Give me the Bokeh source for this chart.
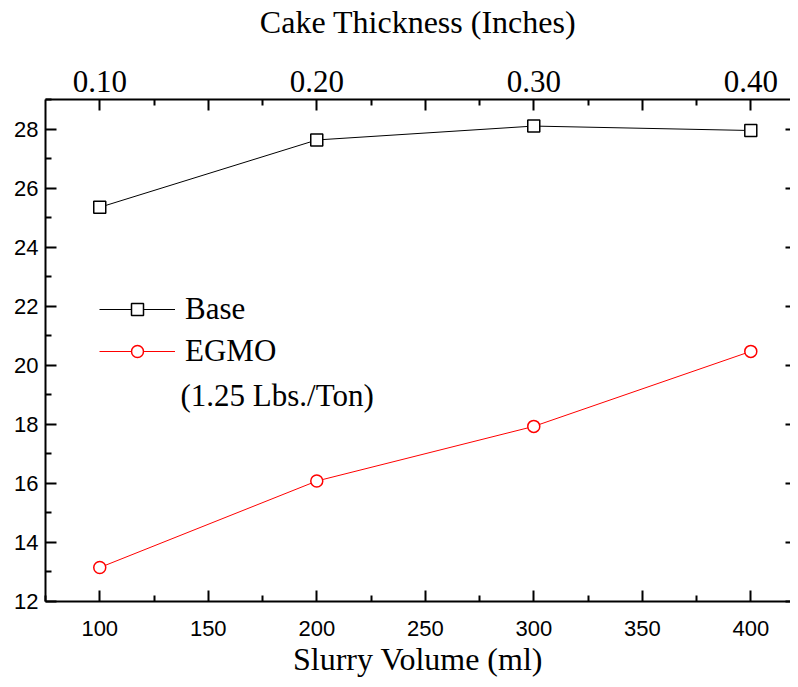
from bokeh.plotting import figure
from bokeh.models import (Range1d, LinearAxis, FixedTicker, Legend, LegendItem, Label)
from bokeh.embed import file_html
from bokeh.resources import INLINE

# ---- data ----
slurry_volume = [100, 200, 300, 400]
base_values = [25.35, 27.63, 28.1, 27.95]
egmo_values = [13.15, 16.08, 17.93, 20.47]

x_ticks = [100, 150, 200, 250, 300, 350, 400]
x_minor = [75, 125, 175, 225, 275, 325, 375, 425]
y_ticks = [12, 14, 16, 18, 20, 22, 24, 26, 28]
y_minor = [13, 15, 17, 19, 21, 23, 25, 27, 29]
top_ticks = [0.10, 0.15, 0.20, 0.25, 0.30, 0.35, 0.40]
top_labels = ["0.10", "", "0.20", "", "0.30", "", "0.40"]
top_minor = [0.125, 0.175, 0.225, 0.275, 0.325, 0.375]

SERIF = "Liberation Serif"
SANS = "Liberation Sans"

p = figure(width=790, height=679, output_backend="svg", toolbar_location=None,
           x_range=Range1d(75, 418.3), y_range=Range1d(12, 29),
           min_border_left=45, min_border_right=0, min_border_top=99, min_border_bottom=78,
           x_axis_location=None, y_axis_location=None)
p.grid.visible = False
p.outline_line_color = None
p.extra_x_ranges = {"thick": Range1d(0.075, 0.4183)}

def style(ax, tick_in=11, minor_in=6):
    ax.axis_line_width = 2
    ax.axis_line_color = "black"
    ax.major_tick_line_width = 2
    ax.minor_tick_line_width = 2
    ax.major_tick_line_color = "black"
    ax.minor_tick_line_color = "black"
    ax.major_tick_in = tick_in
    ax.major_tick_out = 0
    ax.minor_tick_in = minor_in
    ax.minor_tick_out = 0
    ax.major_label_text_color = "black"
    ax.axis_label_text_color = "black"
    ax.axis_label_text_font_style = "normal"

# bottom axis
xb = LinearAxis(ticker=FixedTicker(ticks=x_ticks, minor_ticks=x_minor),
                axis_label="Slurry Volume (ml)")
style(xb)
xb.major_label_text_font = SANS
xb.major_label_text_font_size = "22px"
xb.major_label_standoff = 19
xb.axis_label_text_font = SERIF
xb.axis_label_text_font_size = "32px"
xb.axis_label_standoff = 2
p.add_layout(xb, "below")

# left axis
yl = LinearAxis(ticker=FixedTicker(ticks=y_ticks, minor_ticks=y_minor))
style(yl)
yl.major_label_text_font = SANS
yl.major_label_text_font_size = "22px"
yl.major_label_standoff = 7
p.add_layout(yl, "left")

# top axis
xt = LinearAxis(x_range_name="thick",
                ticker=FixedTicker(ticks=top_ticks, minor_ticks=top_minor),
                axis_label="Cake Thickness (Inches)")
style(xt)
xt.major_label_overrides = {t: l for t, l in zip(top_ticks, top_labels)}
xt.major_label_text_font = SERIF
xt.major_label_text_font_size = "31px"
xt.major_label_standoff = 8
xt.axis_label_text_font = SERIF
xt.axis_label_text_font_size = "32px"
xt.axis_label_standoff = 28
p.add_layout(xt, "above")

# right axis (ticks only, no labels)
yr = LinearAxis(ticker=FixedTicker(ticks=y_ticks, minor_ticks=[]))
style(yr, tick_in=5, minor_in=0)
yr.axis_line_color = None
yr.major_label_overrides = {t: "" for t in y_ticks}
yr.major_label_standoff = 0
p.add_layout(yr, "right")

# series
bl = p.line(slurry_volume, base_values, line_color="black", line_width=1)
bm = p.scatter(slurry_volume, base_values, marker="square", size=12,
               fill_color="white", line_color="black", line_width=1.5)
el = p.line(slurry_volume, egmo_values, line_color="red", line_width=1)
em = p.scatter(slurry_volume, egmo_values, marker="circle", size=12,
               fill_color="white", line_color="red", line_width=1.5)

def make_legend(label, rends, loc):
    return Legend(items=[LegendItem(label=label, renderers=rends)],
                  location=loc, glyph_width=76, glyph_height=30,
                  label_height=30, label_standoff=10, spacing=0, padding=0, margin=0,
                  border_line_color=None, background_fill_alpha=0,
                  label_text_font=SERIF, label_text_font_size="31px",
                  label_text_color="black")

p.add_layout(make_legend("Base", [bl, bm], (54, 274)), "center")
p.add_layout(make_legend("EGMO", [el, em], (54, 232)), "center")

p.add_layout(Label(x=135, y=206, x_units="screen", y_units="screen",
                   text="(1.25 Lbs./Ton)", text_font=SERIF, text_font_size="31px",
                   text_baseline="middle", text_color="black"))

open("out.html", "w").write(file_html(p, INLINE))
